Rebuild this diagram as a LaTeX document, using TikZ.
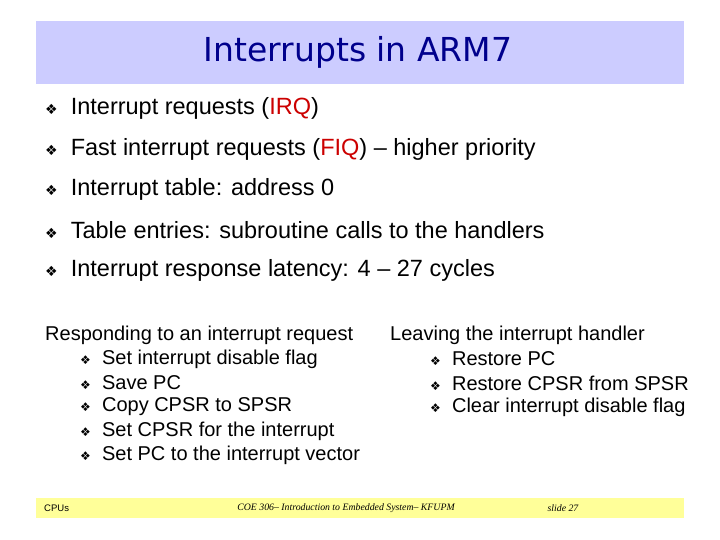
\documentclass[tikz,border=0pt]{standalone}
\usepackage{fontspec}
\setmainfont{Liberation Sans}
\newfontfamily\djv{DejaVu Sans}
\newfontfamily\tms{Liberation Serif}
\definecolor{titlebg}{RGB}{204,204,255}
\definecolor{titlefg}{RGB}{0,0,140}
\definecolor{footbg}{RGB}{255,255,153}
\definecolor{redt}{RGB}{204,0,0}
\newcommand{\bul}{{\djv\fontsize{14}{14}\selectfont\char"2756}}
\newcommand{\sbul}{{\djv\fontsize{12}{12}\selectfont\char"2756}}
\begin{document}
\begin{tikzpicture}[x=1pt,y=-1pt,
  big/.style={anchor=west,font=\fontsize{23.5}{26}\selectfont,inner sep=0},
  small/.style={anchor=west,font=\fontsize{20}{22}\selectfont,inner sep=0},
  foot/.style={anchor=west,font=\fontsize{9.5}{11}\selectfont,inner sep=0},
  footi/.style={anchor=center,font=\tms\itshape\fontsize{9.8}{11}\selectfont,inner sep=0}]
\useasboundingbox[fill=white] (0,0) rectangle (720,540);
\fill[titlebg] (36,21) rectangle (684,84);
\node[font=\djv\fontsize{33}{38}\selectfont,text=titlefg] (title) at (358,52) {Interrupts in ARM7};
\node[big] (b1) at (45,108) {\bul\ \ Interrupt requests (\textcolor{redt}{IRQ})};
\node[big] (b2) at (45,149) {\bul\ \ Fast interrupt requests (\textcolor{redt}{FIQ}) -- higher priority};
\node[big] (b3) at (45,189) {\bul\ \ Interrupt table: address 0};
\node[big] (b4) at (45,230) {\bul\ \ Table entries: subroutine calls to the handlers};
\node[big] (b5) at (45,270) {\bul\ \ Interrupt response latency: 4 -- 27 cycles};
\node[small] (l0) at (45,335) {Responding to an interrupt request};
\node[small] (l1) at (80,359) {\sbul\ \ Set interrupt disable flag};
\node[small] (l2) at (80,383) {\sbul\ \ Save PC};
\node[small] (l3) at (80,407) {\sbul\ \ Copy CPSR to SPSR};
\node[small] (l4) at (80,431) {\sbul\ \ Set CPSR for the interrupt};
\node[small] (l5) at (80,455) {\sbul\ \ Set PC to the interrupt vector};
\node[small] (r0) at (390,335) {Leaving the interrupt handler};
\node[small] (r1) at (430,359) {\sbul\ \ Restore PC};
\node[small] (r2) at (430,383) {\sbul\ \ Restore CPSR from SPSR};
\node[small] (r3) at (430,407) {\sbul\ \ Clear interrupt disable flag};
\fill[footbg] (36,498) rectangle (684,518);
\node[foot] (f1) at (44,508) {CPUs};
\node[footi] (f2) at (346,508) {COE 306– Introduction to Embedded System– KFUPM};
\node[footi] (f3) at (563,508) {slide 27};
\end{tikzpicture}
\end{document}
